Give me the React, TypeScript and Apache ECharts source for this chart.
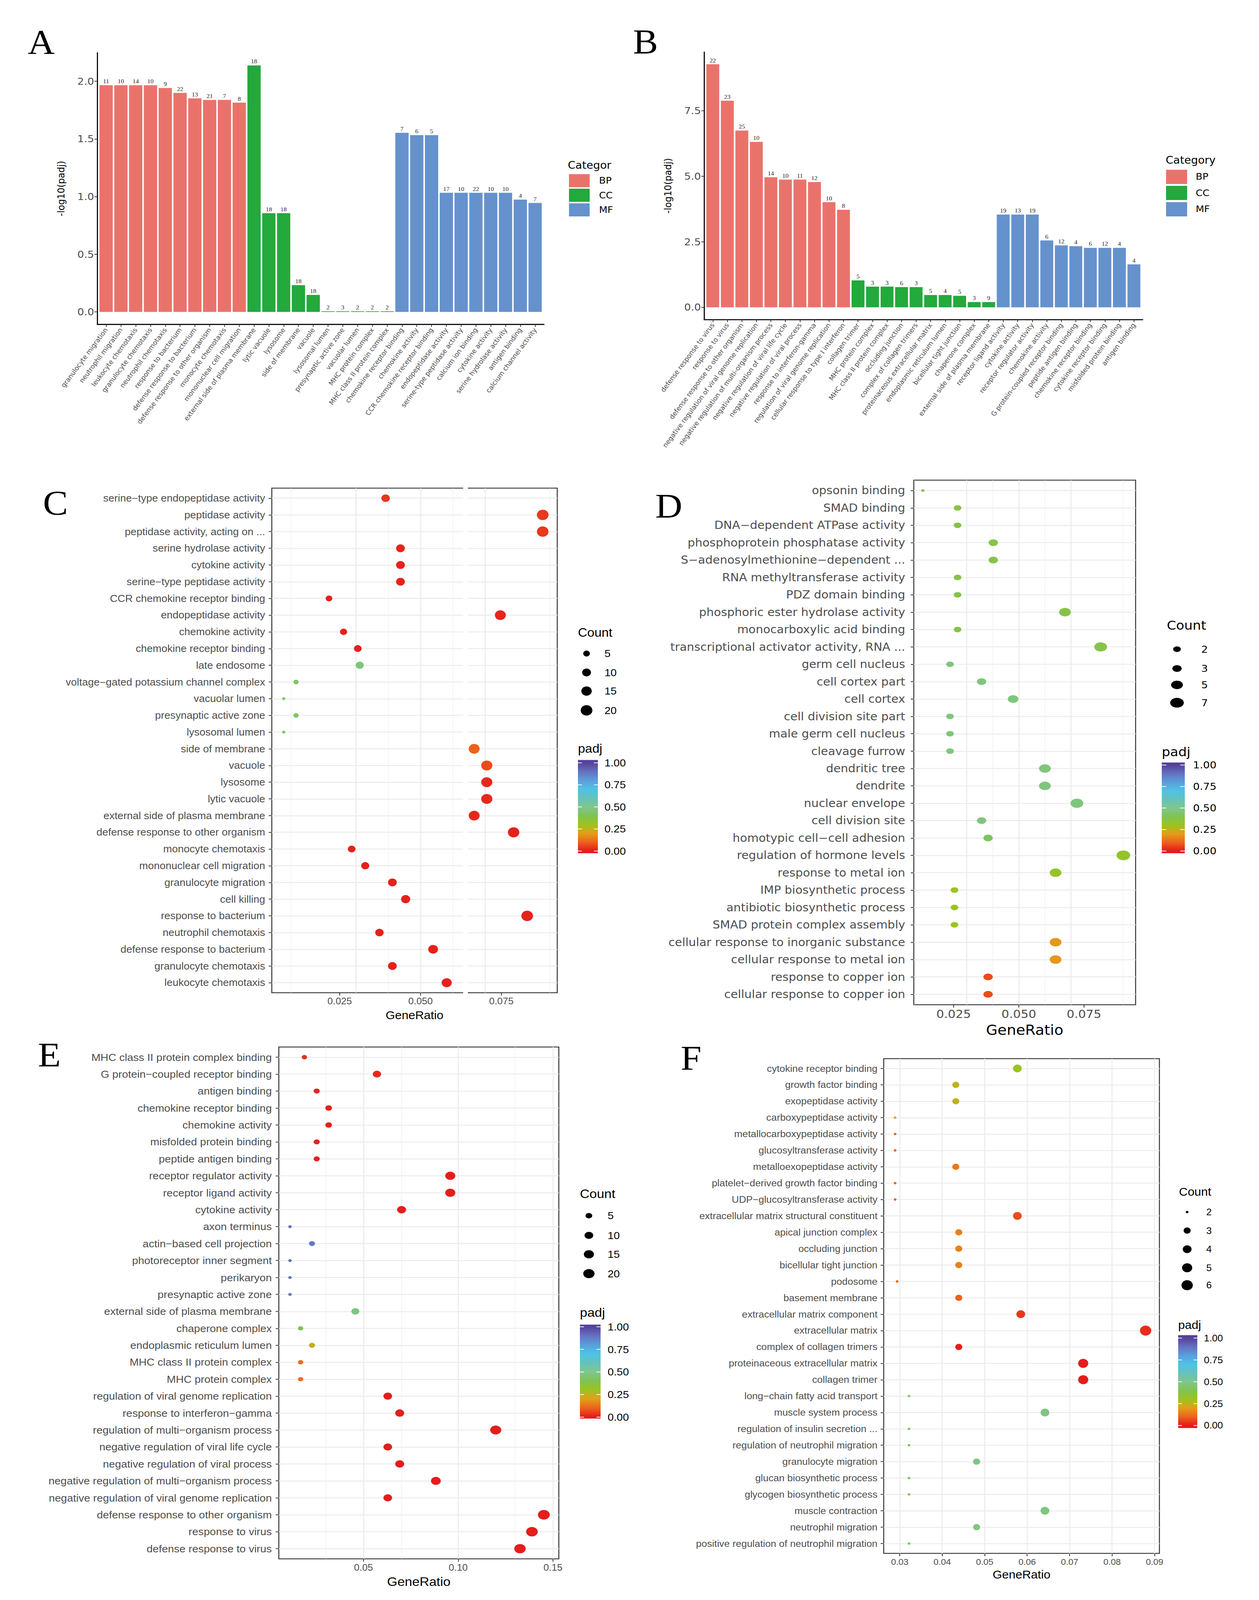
import React, { useEffect, useRef } from "react";
import * as echarts from "echarts";

// ================= Panel A (bar) =================
const A_BP_terms = ["granulocyte migration", "neutrophil migration", "leukocyte chemotaxis", "granulocyte chemotaxis", "neutrophil chemotaxis", "response to bacterium", "defense response to bacterium", "defense response to other organism", "monocyte chemotaxis", "mononuclear cell migration"];
const A_BP_vals = [1.966, 1.966, 1.966, 1.966, 1.942, 1.9, 1.852, 1.839, 1.839, 1.815];
const A_BP_counts = [11, 10, 14, 10, 9, 22, 13, 21, 7, 8];
const A_CC_terms = ["external side of plasma membrane", "lytic vacuole", "lysosome", "side of membrane", "vacuole", "lysosomal lumen", "presynaptic active zone", "vacuolar lumen", "MHC protein complex", "MHC class II protein complex"];
const A_CC_vals = [2.138, 0.856, 0.856, 0.232, 0.147, 0.006, 0.006, 0.006, 0.006, 0.006];
const A_CC_counts = [18, 18, 18, 18, 18, 2, 3, 2, 2, 2];
const A_MF_terms = ["chemokine receptor binding", "chemokine activity", "CCR chemokine receptor binding", "endopeptidase activity", "serine-type peptidase activity", "calcium ion binding", "cytokine activity", "serine hydrolase activity", "antigen binding", "calcium channel activity"];
const A_MF_vals = [1.553, 1.533, 1.533, 1.033, 1.033, 1.033, 1.033, 1.033, 0.974, 0.945];
const A_MF_counts = [7, 6, 5, 17, 10, 22, 10, 10, 4, 7];
const A_yTicks = [0, 0.5, 1, 1.5, 2];

// ================= Panel B (bar) =================
const B_BP_terms = ["defense response to virus", "response to virus", "defense response to other organism", "negative regulation of viral genome replication", "negative regulation of multi-organism process", "negative regulation of viral life cycle", "negative regulation of viral process", "response to interferon-gamma", "regulation of viral genome replication", "cellular response to type I interferon"];
const B_BP_vals = [9.27, 7.88, 6.74, 6.31, 4.96, 4.87, 4.87, 4.78, 4.01, 3.72];
const B_BP_counts = [22, 23, 25, 10, 14, 10, 11, 12, 10, 8];
const B_CC_terms = ["collagen trimer", "MHC protein complex", "MHC class II protein complex", "occluding junction", "complex of collagen trimers", "proteinaceous extracellular matrix", "endoplasmic reticulum lumen", "bicellular tight junction", "chaperone complex", "external side of plasma membrane"];
const B_CC_vals = [1.03, 0.79, 0.79, 0.77, 0.77, 0.47, 0.47, 0.44, 0.2, 0.2];
const B_CC_counts = [5, 3, 3, 6, 3, 5, 4, 5, 3, 9];
const B_MF_terms = ["receptor ligand activity", "cytokine activity", "receptor regulator activity", "chemokine activity", "G protein-coupled receptor binding", "peptide antigen binding", "chemokine receptor binding", "cytokine receptor binding", "misfolded protein binding", "antigen binding"];
const B_MF_vals = [3.54, 3.54, 3.54, 2.55, 2.36, 2.33, 2.27, 2.27, 2.27, 1.64];
const B_MF_counts = [19, 13, 19, 6, 12, 4, 6, 12, 4, 4];
const B_yTicks = [0, 2.5, 5, 7.5];

// ================= Panel C (dots) =================
const C_terms = ["serine\u2212type endopeptidase activity", "peptidase activity", "peptidase activity, acting on ...", "serine hydrolase activity", "cytokine activity", "serine\u2212type peptidase activity", "CCR chemokine receptor binding", "endopeptidase activity", "chemokine activity", "chemokine receptor binding", "late endosome", "voltage\u2212gated potassium channel complex", "vacuolar lumen", "presynaptic active zone", "lysosomal lumen", "side of membrane", "vacuole", "lysosome", "lytic vacuole", "external side of plasma membrane", "defense response to other organism", "monocyte chemotaxis", "mononuclear cell migration", "granulocyte migration", "cell killing", "response to bacterium", "neutrophil chemotaxis", "defense response to bacterium", "granulocyte chemotaxis", "leukocyte chemotaxis"];
const C_ratio = [0.0392, 0.0878, 0.0878, 0.0438, 0.0438, 0.0438, 0.0217, 0.0747, 0.0262, 0.0306, 0.0312, 0.0115, 0.0077, 0.0115, 0.0077, 0.0666, 0.0705, 0.0705, 0.0705, 0.0666, 0.0788, 0.0287, 0.0329, 0.0413, 0.0454, 0.083, 0.0373, 0.0539, 0.0413, 0.0581];
const C_count = [9, 20, 20, 10, 10, 10, 5, 17, 6, 7, 8, 3, 2, 3, 2, 17, 18, 18, 18, 17, 19, 7, 8, 10, 11, 20, 9, 13, 10, 14];
const C_padj = [0.04, 0.045, 0.045, 0.015, 0.015, 0.015, 0.01, 0.015, 0.01, 0.01, 0.47, 0.42, 0.4, 0.42, 0.4, 0.1, 0.07, 0.02, 0.02, 0.02, 0.01, 0.01, 0.01, 0.01, 0.01, 0.01, 0.01, 0.01, 0.01, 0.01];
const C_xTicks = [0.025, 0.05, 0.075];
const C_xTickLabels = ["0.025", "0.050", "0.075"];
const C_xMinor = [0.0125, 0.0375, 0.0625, 0.0875];
const C_legendCounts = [5, 10, 15, 20];

// ================= Panel D (dots) =================
const D_terms = ["opsonin binding", "SMAD binding", "DNA\u2212dependent ATPase activity", "phosphoprotein phosphatase activity", "S\u2212adenosylmethionine\u2212dependent ...", "RNA methyltransferase activity", "PDZ domain binding", "phosphoric ester hydrolase activity", "monocarboxylic acid binding", "transcriptional activator activity, RNA ...", "germ cell nucleus", "cell cortex part", "cell cortex", "cell division site part", "male germ cell nucleus", "cleavage furrow", "dendritic tree", "dendrite", "nuclear envelope", "cell division site", "homotypic cell\u2212cell adhesion", "regulation of hormone levels", "response to metal ion", "IMP biosynthetic process", "antibiotic biosynthetic process", "SMAD protein complex assembly", "cellular response to inorganic substance", "cellular response to metal ion", "response to copper ion", "cellular response to copper ion"];
const D_ratio = [0.0132, 0.0265, 0.0265, 0.0402, 0.0402, 0.0265, 0.0265, 0.0677, 0.0265, 0.0814, 0.0236, 0.0357, 0.0478, 0.0236, 0.0236, 0.0236, 0.06, 0.06, 0.0723, 0.0357, 0.0382, 0.0901, 0.0641, 0.0253, 0.0253, 0.0253, 0.0641, 0.0641, 0.0382, 0.0382];
const D_count = [1, 2, 2, 3, 3, 2, 2, 5, 2, 6, 2, 3, 4, 2, 2, 2, 5, 5, 6, 3, 3, 7, 5, 2, 2, 2, 5, 5, 3, 3];
const D_padj = [0.38, 0.38, 0.38, 0.38, 0.38, 0.38, 0.38, 0.38, 0.38, 0.38, 0.47, 0.47, 0.47, 0.47, 0.47, 0.47, 0.47, 0.47, 0.47, 0.47, 0.42, 0.33, 0.32, 0.3, 0.3, 0.3, 0.19, 0.19, 0.07, 0.07];
const D_xTicks = [0.025, 0.05, 0.075];
const D_xTickLabels = ["0.025", "0.050", "0.075"];
const D_xMinor = [0.0125, 0.0375, 0.0625, 0.0875];
const D_legendCounts = [2, 3, 5, 7];

// ================= Panel E (dots) =================
const E_terms = ["MHC class II protein complex binding", "G protein\u2212coupled receptor binding", "antigen binding", "chemokine receptor binding", "chemokine activity", "misfolded protein binding", "peptide antigen binding", "receptor regulator activity", "receptor ligand activity", "cytokine activity", "axon terminus", "actin\u2212based cell projection", "photoreceptor inner segment", "perikaryon", "presynaptic active zone", "external side of plasma membrane", "chaperone complex", "endoplasmic reticulum lumen", "MHC class II protein complex", "MHC protein complex", "regulation of viral genome replication", "response to interferon\u2212gamma", "regulation of multi\u2212organism process", "negative regulation of viral life cycle", "negative regulation of viral process", "negative regulation of multi\u2212organism process", "negative regulation of viral genome replication", "defense response to other organism", "response to virus", "defense response to virus"];
const E_ratio = [0.0188, 0.0571, 0.0253, 0.0316, 0.0316, 0.0253, 0.0253, 0.0958, 0.0958, 0.0701, 0.0112, 0.0228, 0.0112, 0.0112, 0.0112, 0.0457, 0.0168, 0.0228, 0.0168, 0.0168, 0.0628, 0.0691, 0.1198, 0.0628, 0.0691, 0.0882, 0.0628, 0.1452, 0.1389, 0.1326];
const E_count = [3, 9, 4, 5, 5, 4, 4, 15, 15, 11, 2, 4, 2, 2, 2, 8, 3, 4, 3, 3, 10, 11, 19, 10, 11, 14, 10, 23, 22, 21];
const E_padj = [0.03, 0.02, 0.015, 0.01, 0.01, 0.01, 0.01, 0.005, 0.005, 0.005, 0.9, 0.88, 0.9, 0.9, 0.9, 0.48, 0.4, 0.24, 0.12, 0.12, 0.005, 0.005, 0.005, 0.005, 0.005, 0.005, 0.005, 0.005, 0.005, 0.005];
const E_xTicks = [0.05, 0.1, 0.15];
const E_xTickLabels = ["0.05", "0.10", "0.15"];
const E_xMinor = [0.025, 0.075, 0.125];
const E_legendCounts = [5, 10, 15, 20];

// ================= Panel F (dots) =================
const F_terms = ["cytokine receptor binding", "growth factor binding", "exopeptidase activity", "carboxypeptidase activity", "metallocarboxypeptidase activity", "glucosyltransferase activity", "metalloexopeptidase activity", "platelet\u2212derived growth factor binding", "UDP\u2212glucosyltransferase activity", "extracellular matrix structural constituent", "apical junction complex", "occluding junction", "bicellular tight junction", "podosome", "basement membrane", "extracellular matrix component", "extracellular matrix", "complex of collagen trimers", "proteinaceous extracellular matrix", "collagen trimer", "long\u2212chain fatty acid transport", "muscle system process", "regulation of insulin secretion ...", "regulation of neutrophil migration", "granulocyte migration", "glucan biosynthetic process", "glycogen biosynthetic process", "muscle contraction", "neutrophil migration", "positive regulation of neutrophil migration"];
const F_ratio = [0.0577, 0.0432, 0.0432, 0.0289, 0.0289, 0.0289, 0.0432, 0.0289, 0.0289, 0.0577, 0.0439, 0.0439, 0.0439, 0.0294, 0.0439, 0.0585, 0.0879, 0.0439, 0.0732, 0.0732, 0.0322, 0.0642, 0.0322, 0.0322, 0.0481, 0.0322, 0.0322, 0.0642, 0.0481, 0.0322];
const F_count = [4, 3, 3, 2, 2, 2, 3, 2, 2, 4, 3, 3, 3, 2, 3, 4, 6, 3, 5, 5, 2, 4, 2, 2, 3, 2, 2, 4, 3, 2];
const F_padj = [0.3, 0.25, 0.25, 0.23, 0.11, 0.11, 0.14, 0.1, 0.1, 0.07, 0.15, 0.15, 0.15, 0.1, 0.1, 0.04, 0.025, 0.005, 0.005, 0.005, 0.42, 0.48, 0.42, 0.42, 0.48, 0.42, 0.42, 0.48, 0.48, 0.42];
const F_xTicks = [0.03, 0.04, 0.05, 0.06, 0.07, 0.08, 0.09];
const F_xTickLabels = ["0.03", "0.04", "0.05", "0.06", "0.07", "0.08", "0.09"];
const F_xMinor = [0.035, 0.045, 0.055, 0.065, 0.075, 0.085];
const F_legendCounts = [2, 3, 4, 5, 6];

// ================= shared scales =================
const PADJ_STOPS = [0, 0.1, 0.2, 0.3, 0.4, 0.5, 0.6, 0.7, 0.8, 0.9, 1.0];
const PADJ_COLORS = ["#E41A1C", "#EC621B", "#E39E1B", "#9CC31E", "#80C353", "#80C68E", "#64C2BC", "#4EC3E6", "#5A9EDC", "#6572C0", "#55429A"];
const PADJ_LEGEND_VALUES = [0, 0.25, 0.5, 0.75, 1];
const PADJ_LEGEND_LABELS = ["0.00", "0.25", "0.50", "0.75", "1.00"];
const CAT_NAMES = ["BP", "CC", "MF"];
const CAT_COLORS = ["#E9736B", "#23A93C", "#6592CC"];

const SANS = "'Liberation Sans', Arial, Helvetica, sans-serif";
const DJV = "'DejaVu Sans', Verdana, sans-serif";
const SERIF = "'Liberation Serif', 'Times New Roman', serif";

const PAGE_W = 3224;
const PAGE_H = 4392;

function nearestLabel(v: number, vals: number[], labels: string[]) {
  let best = 0;
  for (let i = 0; i < vals.length; i++) {
    if (Math.abs(vals[i] - v) < Math.abs(vals[best] - v)) best = i;
  }
  return labels[best];
}

function makeSize(min: number, max: number, k: number, b: number) {
  return (c: number) => k * (1 + 5 * Math.sqrt(Math.max(0, c - min) / (max - min))) + b;
}

function buildOption() {
  const grid: any[] = [];
  const xAxis: any[] = [];
  const yAxis: any[] = [];
  const series: any[] = [];
  const visualMap: any[] = [];
  const graphic: any[] = [];

  const txt = (text: string, x: number, y: number, fontSize: number, fontFamily: string, fill = "#000", align = "left") => ({
    type: "text",
    x,
    y,
    silent: true,
    style: { text, fontSize, fontFamily, fill, align, verticalAlign: "middle" },
  });

  // ---------- bar panels ----------
  const barPanels = [
    {
      groups: [
        { terms: A_BP_terms, vals: A_BP_vals, counts: A_BP_counts },
        { terms: A_CC_terms, vals: A_CC_vals, counts: A_CC_counts },
        { terms: A_MF_terms, vals: A_MF_vals, counts: A_MF_counts },
      ],
      g: { left: 249, top: 145, width: 1144, height: 745 },
      yMin: -0.107, yMax: 2.247, yTicks: A_yTicks, barWidth: 34, nameGap: 80,
      legend: { title: "Categor", tx: 1454, ty: 453, kx: 1457, kw: 53, ky: [478, 518, 558], kh: 36, lx: 1534 },
    },
    {
      groups: [
        { terms: B_BP_terms, vals: B_BP_vals, counts: B_BP_counts },
        { terms: B_CC_terms, vals: B_CC_vals, counts: B_CC_counts },
        { terms: B_MF_terms, vals: B_MF_vals, counts: B_MF_counts },
      ],
      g: { left: 1803, top: 143, width: 1123, height: 734 },
      yMin: -0.4635, yMax: 9.7335, yTicks: B_yTicks, barWidth: 33, nameGap: 80,
      legend: { title: "Category", tx: 2985, ty: 439, kx: 2986, kw: 54, ky: [466, 510, 555], kh: 39, lx: 3062 },
    },
  ];

  barPanels.forEach((p) => {
    const gi = grid.length;
    const terms: string[] = [];
    const vals: number[] = [];
    const counts: number[] = [];
    const cols: string[] = [];
    p.groups.forEach((gr, k) => {
      gr.terms.forEach((t, i) => {
        terms.push(t);
        vals.push(gr.vals[i]);
        counts.push(gr.counts[i]);
        cols.push(CAT_COLORS[k]);
      });
    });
    const idx = terms.map((_, i) => i + 1);
    grid.push({ left: p.g.left, top: p.g.top, width: p.g.width, height: p.g.height, containLabel: false });
    xAxis.push({
      gridIndex: gi, type: "value", min: 0.4, max: terms.length + 0.6,
      axisLine: { show: true, onZero: false, lineStyle: { color: "#111", width: 3 } },
      axisTick: { show: true, customValues: idx, length: 7, lineStyle: { color: "#333", width: 2 } },
      axisLabel: {
        customValues: idx, formatter: (v: number) => terms[Math.round(v) - 1] ?? "", rotate: 55,
        fontSize: 17.5, color: "#4d4d4d", fontFamily: DJV, margin: 12,
      },
      splitLine: { show: false },
    });
    yAxis.push({
      gridIndex: gi, type: "value", min: p.yMin, max: p.yMax,
      axisLine: { show: true, onZero: false, lineStyle: { color: "#111", width: 3 } },
      axisTick: { show: true, customValues: p.yTicks, length: 7, lineStyle: { color: "#333", width: 2 } },
      axisLabel: { customValues: p.yTicks, formatter: (v: number) => v.toFixed(1), fontSize: 27, color: "#4d4d4d", fontFamily: DJV, margin: 8 },
      splitLine: { show: false },
      name: "-log10(padj)", nameLocation: "middle", nameGap: p.nameGap,
      nameTextStyle: { fontSize: 25, color: "#000", fontFamily: DJV },
    });
    series.push({
      type: "bar", xAxisIndex: gi, yAxisIndex: gi, barWidth: p.barWidth, silent: true,
      data: terms.map((t, i) => ({ name: t, value: [i + 1, vals[i]], itemStyle: { color: cols[i] } })),
      label: {
        show: true, position: "top", distance: 3,
        formatter: (q: any) => String(counts[q.dataIndex]),
        fontSize: 16, color: "#222", fontFamily: SERIF,
      },
    });
    const L = p.legend;
    graphic.push(txt(L.title, L.tx, L.ty, 28, DJV));
    CAT_NAMES.forEach((nm, k) => {
      graphic.push({ type: "rect", silent: true, shape: { x: L.kx, y: L.ky[k], width: L.kw, height: L.kh }, style: { fill: CAT_COLORS[k] } });
      graphic.push(txt(nm, L.lx, L.ky[k] + L.kh / 2, 25, DJV));
    });
  });

  // ---------- dot panels ----------
  const dotPanels = [
    {
      terms: C_terms, ratio: C_ratio, count: C_count, padj: C_padj, font: SANS,
      g: { left: 696, top: 1340, width: 731, height: 1385 }, xMin: 0.004, xMax: 0.0923,
      ticks: C_xTicks, tickLabels: C_xTickLabels, minors: C_xMinor,
      labelFont: 27, tickFont: 25, nameFont: 31, nameGap: 46, yMargin: 17, xMargin: 10,
      size: makeSize(2, 20, 4.4, 3.6), aspect: 1.05,
      lg: { counts: C_legendCounts, cTitle: [1480, 1736], titleFont: 33, labFont: 28, dotX: 1502, dotY: [1794, 1846, 1897, 1950], labX: 1548,
        pTitle: [1480, 2055], barX: 1480, barW: 51, barY0: 2086, barY1: 2342, lab1: 2094, lab0: 2336, pLabX: 1548 },
    },
    {
      terms: D_terms, ratio: D_ratio, count: D_count, padj: D_padj, font: DJV,
      g: { left: 2340, top: 1318, width: 568, height: 1440 }, xMin: 0.0097, xMax: 0.0948,
      ticks: D_xTicks, tickLabels: D_xTickLabels, minors: D_xMinor,
      labelFont: 30, tickFont: 31, nameFont: 38, nameGap: 50, yMargin: 22, xMargin: 10,
      size: makeSize(1, 7, 5.2, 3.8), aspect: 1.3,
      lg: { counts: D_legendCounts, cTitle: [2988, 1717], titleFont: 34, labFont: 27, dotX: 3014, dotY: [1782, 1835, 1880, 1929], labX: 3076,
        pTitle: [2975, 2064], barX: 2975, barW: 59, barY0: 2093, barY1: 2342, lab1: 2100, lab0: 2336, pLabX: 3055 },
    },
    {
      terms: E_terms, ratio: E_ratio, count: E_count, padj: E_padj, font: SANS,
      g: { left: 714, top: 2874, width: 717, height: 1405 }, xMin: 0.0053, xMax: 0.1531,
      ticks: E_xTicks, tickLabels: E_xTickLabels, minors: E_xMinor,
      labelFont: 28, tickFont: 25, nameFont: 34, nameGap: 46, yMargin: 18, xMargin: 11,
      size: makeSize(2, 23, 4.3, 4.7), aspect: 1.15,
      lg: { counts: E_legendCounts, cTitle: [1485, 3277], titleFont: 34, labFont: 28, dotX: 1508, dotY: [3337, 3391, 3443, 3496], labX: 1556,
        pTitle: [1485, 3603], barX: 1485, barW: 53, barY0: 3636, barY1: 3894, lab1: 3642, lab0: 3890, pLabX: 1556 },
    },
    {
      terms: F_terms, ratio: F_ratio, count: F_count, padj: F_padj, font: SANS,
      g: { left: 2263, top: 2906, width: 706, height: 1358 }, xMin: 0.02623, xMax: 0.09115,
      ticks: F_xTicks, tickLabels: F_xTickLabels, minors: F_xMinor,
      labelFont: 25.5, tickFont: 23, nameFont: 31, nameGap: 43, yMargin: 16, xMargin: 12,
      size: makeSize(2, 6, 4.4, 2.6), aspect: 1.05,
      lg: { counts: F_legendCounts, cTitle: [3019, 3271], titleFont: 31, labFont: 25, dotX: 3040, dotY: [3327, 3378, 3429, 3480, 3528], labX: 3089,
        pTitle: [3017, 3637], barX: 3017, barW: 49, barY0: 3665, barY1: 3920, lab1: 3673, lab0: 3913, pLabX: 3083 },
    },
  ];

  dotPanels.forEach((p) => {
    const gi = grid.length;
    const rows = p.terms.map((_, i) => i + 1);
    grid.push({ left: p.g.left, top: p.g.top, width: p.g.width, height: p.g.height, show: true, borderColor: "#333", borderWidth: 2.5, backgroundColor: "rgba(0,0,0,0)", containLabel: false });
    xAxis.push({
      gridIndex: gi, type: "value", min: p.xMin, max: p.xMax,
      axisLine: { show: false },
      axisTick: { show: true, customValues: p.ticks, length: 8, lineStyle: { color: "#333", width: 2 } },
      axisLabel: { customValues: p.ticks, formatter: (v: number) => nearestLabel(v, p.ticks, p.tickLabels), fontSize: p.tickFont, color: "#4d4d4d", fontFamily: p.font, margin: p.xMargin },
      splitLine: { show: false },
      name: "GeneRatio", nameLocation: "middle", nameGap: p.nameGap,
      nameTextStyle: { fontSize: p.nameFont, color: "#000", fontFamily: p.font },
    });
    yAxis.push({
      gridIndex: gi, type: "value", inverse: true, min: 0.4, max: p.terms.length + 0.6,
      axisLine: { show: false },
      axisTick: { show: true, customValues: rows, length: 8, lineStyle: { color: "#333", width: 2 } },
      axisLabel: { customValues: rows, formatter: (v: number) => p.terms[Math.round(v) - 1] ?? "", fontSize: p.labelFont, color: "#4d4d4d", fontFamily: p.font, margin: p.yMargin },
      splitLine: { show: false },
    });
    // grid lines (background)
    const major = { color: "#EBEBEB", width: 2.6, type: "solid" };
    const minor = { color: "#EFEFEF", width: 1.4, type: "solid" };
    series.push({
      type: "scatter", xAxisIndex: gi, yAxisIndex: gi, z: 1, silent: true,
      data: [[p.xMin, 1]], symbolSize: 0,
      markLine: {
        z: 1, zlevel: 0,
        silent: true, symbol: ["none", "none"], label: { show: false }, animation: false,
        emphasis: { disabled: true },
        data: [
          ...rows.map((r) => ({ yAxis: r, lineStyle: major })),
          ...p.ticks.map((v) => ({ xAxis: v, lineStyle: major })),
          ...p.minors.map((v) => ({ xAxis: v, lineStyle: minor })),
        ],
      },
    });
    const si = series.length;
    series.push({
      type: "scatter", xAxisIndex: gi, yAxisIndex: gi, z: 10, silent: true, symbol: "circle",
      data: p.terms.map((t, i) => ({ name: t, value: [p.ratio[i], i + 1, p.padj[i], p.count[i]] })),
      symbolSize: (v: number[]) => {
        const w = p.size(v[3]);
        return [w, w / p.aspect];
      },
      itemStyle: { opacity: 1 },
    });
    visualMap.push({ type: "continuous", show: false, seriesIndex: si, dimension: 2, min: 0, max: 1, inRange: { color: PADJ_COLORS } });

    // legends
    const L = p.lg;
    graphic.push(txt("Count", L.cTitle[0], L.cTitle[1], L.titleFont, p.font));
    L.counts.forEach((c, k) => {
      const w = p.size(c);
      graphic.push({ type: "ellipse", silent: true, shape: { cx: L.dotX, cy: L.dotY[k], rx: w / 2, ry: w / 2 / p.aspect }, style: { fill: "#000" } });
      graphic.push(txt(String(c), L.labX, L.dotY[k], L.labFont, p.font, "#000"));
    });
    graphic.push(txt("padj", L.pTitle[0], L.pTitle[1], L.titleFont, p.font));
    const yOf = (v: number) => L.lab0 - v * (L.lab0 - L.lab1);
    const h = L.barY1 - L.barY0;
    const stops: any[] = [{ offset: 0, color: PADJ_COLORS[PADJ_COLORS.length - 1] }];
    for (let k = PADJ_STOPS.length - 1; k >= 0; k--) {
      stops.push({ offset: Math.min(1, Math.max(0, (yOf(PADJ_STOPS[k]) - L.barY0) / h)), color: PADJ_COLORS[k] });
    }
    stops.push({ offset: 1, color: PADJ_COLORS[0] });
    graphic.push({
      type: "rect", silent: true, shape: { x: L.barX, y: L.barY0, width: L.barW, height: h },
      style: { fill: { type: "linear", x: 0, y: 0, x2: 0, y2: 1, colorStops: stops } },
    });
    PADJ_LEGEND_VALUES.forEach((v, k) => {
      const y = yOf(v);
      const tl = L.barW * 0.2;
      graphic.push({ type: "line", silent: true, shape: { x1: L.barX, y1: y, x2: L.barX + tl, y2: y }, style: { stroke: "#fff", lineWidth: 2 } });
      graphic.push({ type: "line", silent: true, shape: { x1: L.barX + L.barW - tl, y1: y, x2: L.barX + L.barW, y2: y }, style: { stroke: "#fff", lineWidth: 2 } });
      graphic.push(txt(PADJ_LEGEND_LABELS[k], L.pLabX, y, L.labFont, p.font, "#000"));
    });
  });

  // white stripe artefact in panel C
  graphic.push({ type: "rect", silent: true, z: 100, shape: { x: 1186, y: 1328, width: 12, height: 1410 }, style: { fill: "#fff" } });

  // panel letters
  const letters: [string, number, number][] = [["A", 71, 114], ["B", 1621, 113], ["C", 110, 1380], ["D", 1678, 1388], ["E", 97, 2895], ["F", 1743, 2903]];
  letters.forEach(([l, x, y]) => graphic.push(txt(l, x, y, 96, SERIF, "#000")));

  return {
    animation: false,
    backgroundColor: "#fff",
    grid, xAxis, yAxis, series, visualMap, graphic,
  };
}

export default function App() {
  const outerRef = useRef<HTMLDivElement>(null);
  const ref = useRef<HTMLDivElement>(null);
  useEffect(() => {
    document.documentElement.style.margin = "0";
    document.documentElement.style.overflow = "hidden";
    document.body.style.margin = "0";
    document.body.style.overflow = "hidden";
    const vw = window.innerWidth || PAGE_W;
    const vh = window.innerHeight || PAGE_H;
    const sx = Math.min(1, vw / PAGE_W);
    const sy = Math.min(1, vh / PAGE_H);
    if (outerRef.current) {
      outerRef.current.style.width = `${PAGE_W * sx}px`;
      outerRef.current.style.height = `${PAGE_H * sy}px`;
    }
    if (ref.current) {
      ref.current.style.transformOrigin = "0 0";
      ref.current.style.transform = `scale(${sx}, ${sy})`;
    }
    const chart = echarts.init(ref.current!, null, { renderer: "svg" });
    chart.setOption(buildOption() as any);
    return () => chart.dispose();
  }, []);
  return (
    <div ref={outerRef} style={{ width: PAGE_W, height: PAGE_H, overflow: "hidden", background: "#fff" }}>
      <div ref={ref} style={{ width: PAGE_W, height: PAGE_H }} />
    </div>
  );
}
